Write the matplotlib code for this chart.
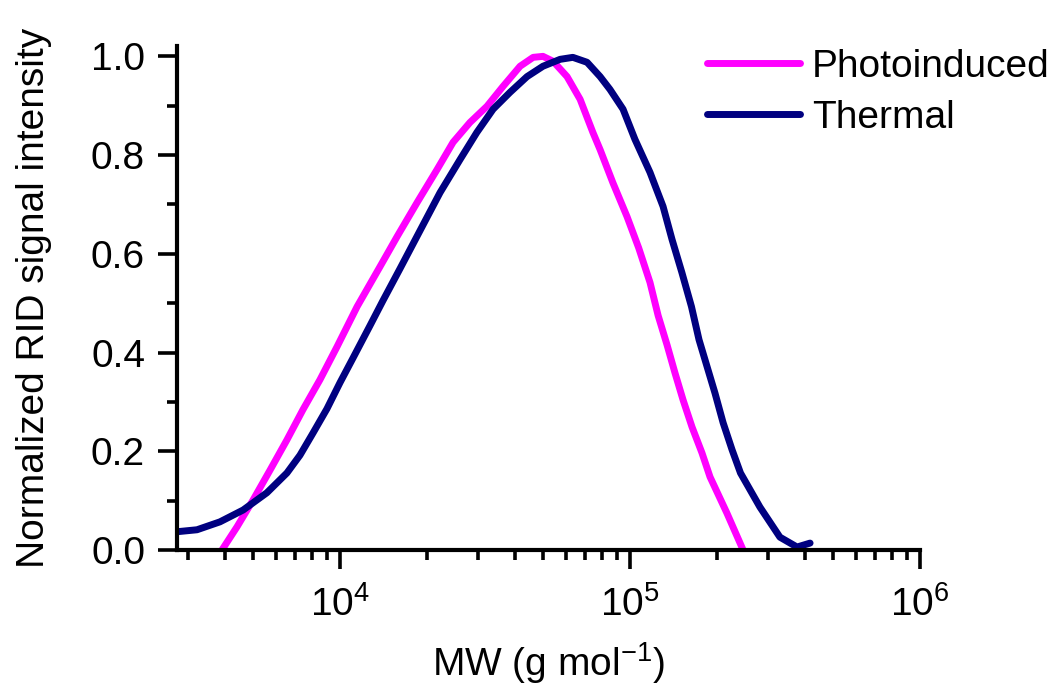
import numpy as np
import matplotlib
matplotlib.use("Agg")
import matplotlib.pyplot as plt
from matplotlib.ticker import LogLocator, MultipleLocator, NullFormatter

plt.rcParams['font.family'] = ['Liberation Sans', 'DejaVu Sans']
plt.rcParams['mathtext.fontset'] = 'custom'
plt.rcParams['mathtext.rm'] = 'Liberation Sans'
plt.rcParams['mathtext.it'] = 'Liberation Sans:italic'

# GPC traces: log10(MW) vs normalized RID signal
photo_logmw = [3.593, 3.645, 3.700, 3.759, 3.817, 3.872, 3.931, 3.990, 4.059, 4.138,
               4.197, 4.266, 4.335, 4.390, 4.448, 4.507, 4.562, 4.621, 4.666, 4.700,
               4.735, 4.783, 4.828, 4.872, 4.897, 4.941, 4.990, 5.030, 5.069, 5.097,
               5.128, 5.155, 5.183, 5.214, 5.248, 5.276, 5.334, 5.390]
photo_signal = [0.0, 0.047, 0.101, 0.162, 0.223, 0.284, 0.345, 0.412, 0.493, 0.574,
                0.635, 0.704, 0.771, 0.826, 0.866, 0.899, 0.939, 0.980, 0.998, 1.0,
                0.990, 0.959, 0.913, 0.846, 0.811, 0.744, 0.675, 0.612, 0.542, 0.475,
                0.415, 0.359, 0.304, 0.249, 0.197, 0.148, 0.075, 0.0]

thermal_logmw = [3.438, 3.507, 3.586, 3.666, 3.748, 3.817, 3.862, 3.907, 3.955, 4.000,
                 4.045, 4.103, 4.148, 4.207, 4.276, 4.345, 4.414, 4.472, 4.528, 4.586,
                 4.645, 4.700, 4.759, 4.803, 4.852, 4.897, 4.931, 4.976, 5.017, 5.069,
                 5.114, 5.145, 5.179, 5.212, 5.238, 5.266, 5.293, 5.321, 5.352, 5.381,
                 5.448, 5.517, 5.576, 5.621]
thermal_signal = [0.037, 0.041, 0.057, 0.081, 0.116, 0.156, 0.192, 0.237, 0.286, 0.339,
                  0.389, 0.454, 0.505, 0.570, 0.647, 0.724, 0.791, 0.846, 0.893, 0.927,
                  0.959, 0.980, 0.994, 0.998, 0.988, 0.959, 0.933, 0.893, 0.832, 0.765,
                  0.696, 0.629, 0.562, 0.493, 0.426, 0.371, 0.318, 0.258, 0.203, 0.156,
                  0.087, 0.026, 0.006, 0.014]

labels = ['Photoinduced', 'Thermal']
colors = ['#FF00FF', '#000080']

fig = plt.figure(figsize=(10.62, 6.89), dpi=100)
ax = fig.add_axes([177/1062, 1 - 550/689, (920 - 177)/1062, (550 - 46)/689])

ax.plot(10 ** np.array(photo_logmw), photo_signal, color=colors[0], lw=5,
        label=labels[0], solid_capstyle='butt', solid_joinstyle='round')
ax.plot(10 ** np.array(thermal_logmw), thermal_signal, color=colors[1], lw=5,
        label=labels[1], solid_capstyle='round', solid_joinstyle='round')

ax.set_xscale('log')
ax.set_xlim(10 ** 3.438, 1e6)
ax.set_ylim(0, 1.021)

ax.xaxis.set_major_locator(LogLocator(base=10, numticks=10))
ax.xaxis.set_minor_locator(LogLocator(base=10, subs=np.arange(2, 10), numticks=20))
ax.xaxis.set_minor_formatter(NullFormatter())
ax.yaxis.set_major_locator(MultipleLocator(0.2))
ax.yaxis.set_minor_locator(MultipleLocator(0.1))
ax.yaxis.set_major_formatter(plt.FuncFormatter(lambda v, p: f"{v:.1f}"))

for side in ['top', 'right']:
    ax.spines[side].set_visible(False)
for side in ['left', 'bottom']:
    ax.spines[side].set_linewidth(3)

ax.tick_params(which='major', direction='out', length=14, width=2.6, labelsize=28)
ax.tick_params(which='minor', direction='out', length=7.5, width=2.6)
ax.tick_params(axis='x', which='major', pad=12)
ax.tick_params(axis='y', which='major', pad=9)

ax.set_xlabel('MW (g mol$^{-1}$)', fontsize=28, labelpad=12)
ax.set_ylabel('Normalized RID signal intensity', fontsize=28, labelpad=28)

leg = ax.legend(loc='upper left', bbox_to_anchor=(707/1062, 1 - 49/689),
                bbox_transform=fig.transFigure, frameon=False, fontsize=28,
                handlelength=2.4, handletextpad=0.3, labelspacing=0.38,
                borderpad=0, borderaxespad=0)
for line in leg.get_lines():
    line.set_solid_capstyle('round')

fig.savefig('out.png', dpi=100)
